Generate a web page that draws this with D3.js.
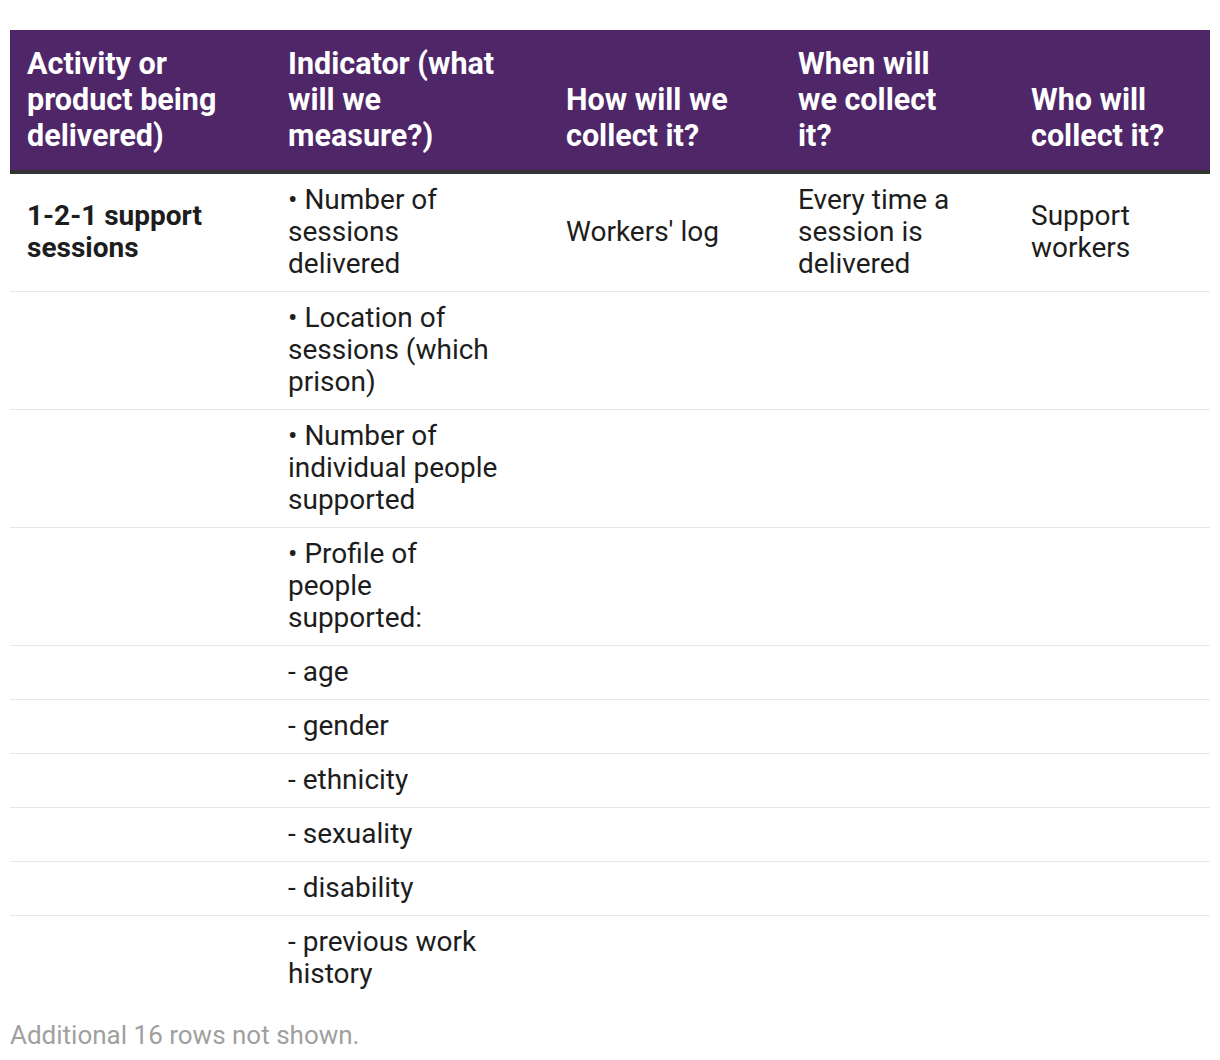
<!DOCTYPE html>
<html>
<head>
<meta charset="utf-8">
<script src="https://cdn.jsdelivr.net/npm/d3@7"></script>
<style>
  body { margin: 0; background: #fff; font-family: Roboto, "Noto Sans", sans-serif; color: #1d1d1d; }
  #wrap { position: absolute; left: 10px; top: 30px; width: 1200px; }
  table { border-collapse: separate; border-spacing: 0; table-layout: fixed; width: 1200px; }
  th { background: #4f2769; color: #fff; font-weight: 700; font-size: 30.5px; line-height: 36px;
       text-align: left; vertical-align: bottom; padding: 16px 0 16px 17px; border-bottom: 4px solid #333; }
  td { font-size: 28px; line-height: 32px; vertical-align: middle; padding: 10px 0 11px 17px;
       border-bottom: 1px solid #e6e6e6; }
  td.first { font-weight: 700; }
  tr:last-child td { border-bottom: none; }
  .note { position: absolute; left: 10px; color: #a0a0a0; font-size: 26px; line-height: 30px; }
</style>
</head>
<body>
<div id="wrap"></div>
<script>
const headers = ["Activity or product being delivered)", "Indicator (what will we measure?)",
  "How will we collect it?", "When will we collect it?", "Who will collect it?"];

const activity = ["1-2-1 support sessions", "", "", "", "", "", "", "", "", ""];
const indicator = [
  "\u2022 Number of sessions delivered",
  "\u2022 Location of sessions (which prison)",
  "\u2022 Number of individual people supported",
  "\u2022 Profile of people supported:",
  "- age", "- gender", "- ethnicity", "- sexuality", "- disability",
  "- previous work history"
];
const howCollect = ["Workers' log", "", "", "", "", "", "", "", "", ""];
const whenCollect = ["Every time a session is delivered", "", "", "", "", "", "", "", "", ""];
const whoCollect = ["Support workers", "", "", "", "", "", "", "", "", ""];

const hiddenRows = 16;

const colWidths = [261, 278, 232, 233, 196];
const textWidths = [220, 215, 200, 160, 165];

const rows = indicator.map((d, i) => [activity[i], d, howCollect[i], whenCollect[i], whoCollect[i]]);

const table = d3.select("#wrap").append("table");

table.append("colgroup").selectAll("col")
  .data(colWidths)
  .enter()
  .append("col")
  .style("width", d => d + "px");

table.append("thead").append("tr")
  .selectAll("th")
  .data(headers)
  .enter()
  .append("th")
  .append("div")
  .style("width", (d, i) => textWidths[i] + "px")
  .text(d => d);

table.append("tbody")
  .selectAll("tr")
  .data(rows)
  .enter()
  .append("tr")
  .selectAll("td")
  .data(d => d)
  .enter()
  .append("td")
  .attr("class", (d, i) => i === 0 ? "first" : null)
  .append("div")
  .style("width", (d, i) => textWidths[i] + "px")
  .text(d => d);

const tableBox = table.node().getBoundingClientRect();

d3.select("body").append("div")
  .attr("class", "note")
  .style("top", (tableBox.bottom + 19) + "px")
  .text(`Additional ${hiddenRows} rows not shown.`);
</script>
</body>
</html>
